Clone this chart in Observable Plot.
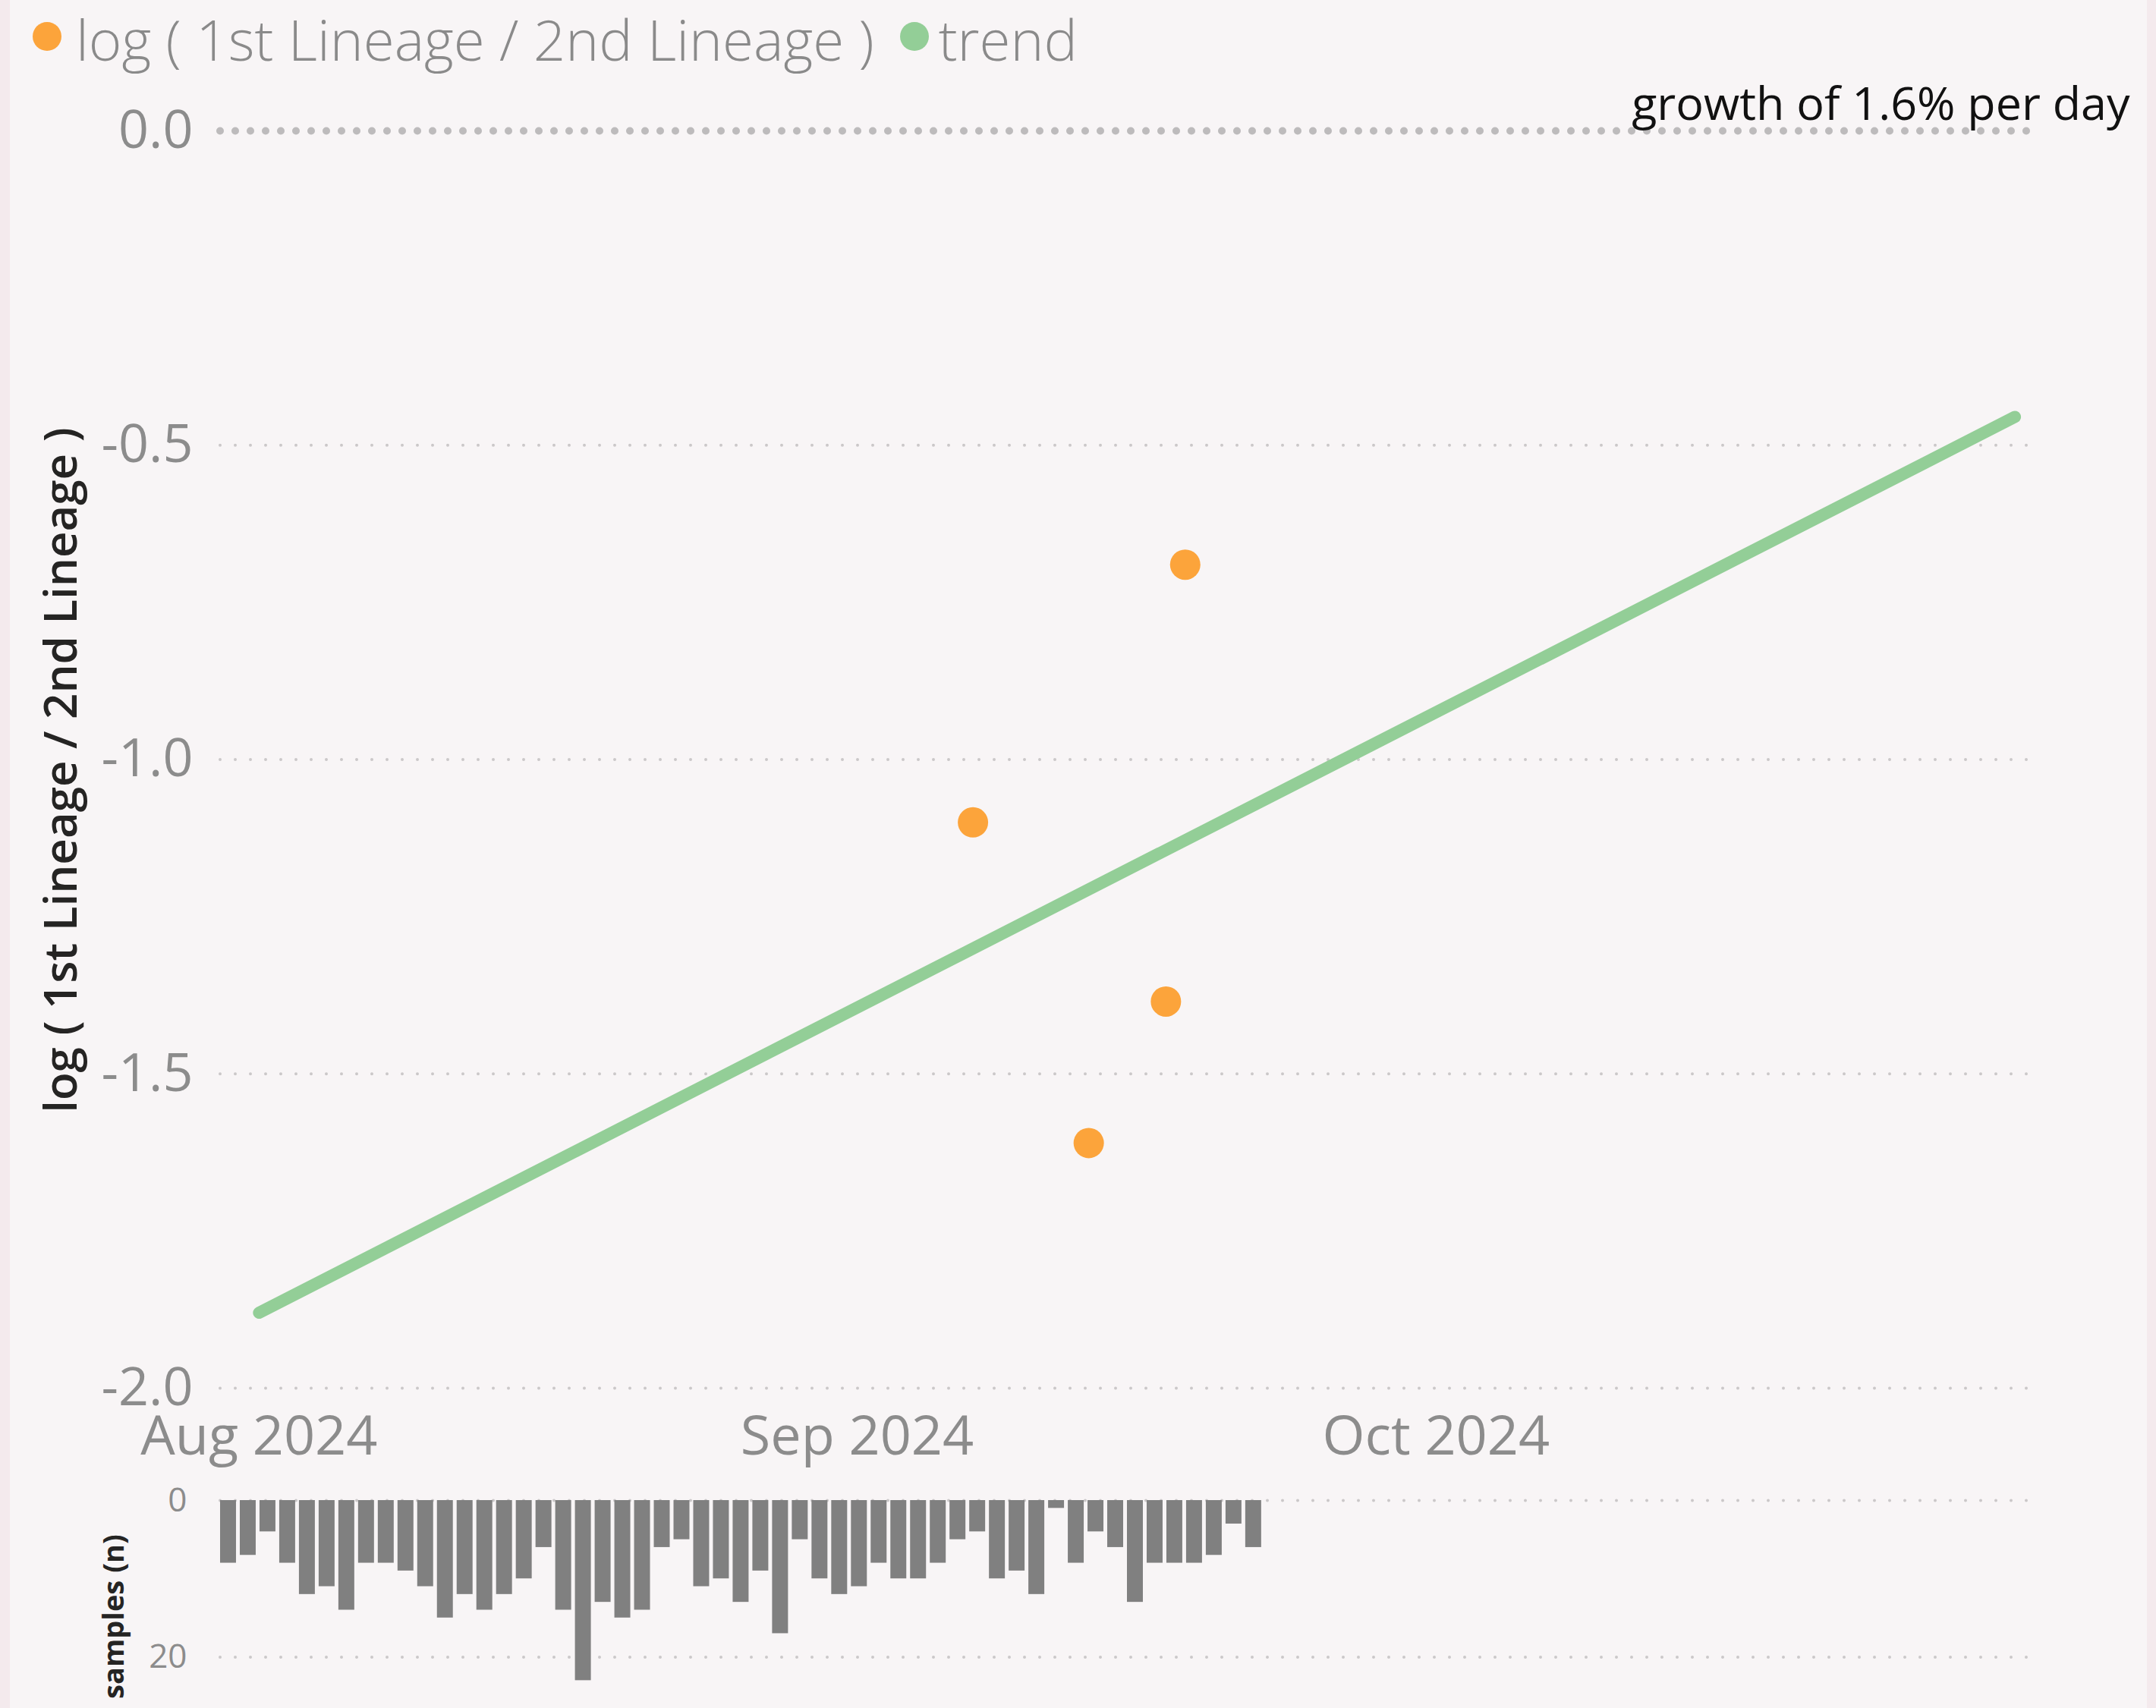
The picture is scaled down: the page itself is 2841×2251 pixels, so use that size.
<!DOCTYPE html>
<html>
<head>
<meta charset="utf-8">
<script src="https://cdn.jsdelivr.net/npm/d3@7"></script>
<script src="https://cdn.jsdelivr.net/npm/@observablehq/plot@0.6"></script>
<style>
  html, body { margin: 0; padding: 0; background: #f4eaed; }
  #root { position: relative; width: 2841px; height: 2251px; overflow: hidden; background: #f4eaed; font-family: "Open Sans", sans-serif; }
  #panel { position: absolute; left: 13px; top: 0; width: 2816px; height: 2251px; background: #f8f5f6; }
  #legend { position: absolute; left: 43px; top: 0; height: 102px; display: flex; align-items: center; font-size: 74.5px; line-height: 102px; color: #8a8a8a; font-weight: 300; white-space: nowrap; }
  #legend .dot { display: inline-block; width: 38px; height: 38px; border-radius: 50%; margin-top: -6px; }
  #legend .item { display: flex; align-items: center; }
  #main { position: absolute; left: 0; top: 100px; }
  #bars { position: absolute; left: 0; top: 1950px; }
</style>
</head>
<body>
<div id="root">
  <div id="panel"></div>
  <div id="legend"></div>
  <div id="main"></div>
  <div id="bars"></div>
</div>
<script>
// ---- data ----
const seriesNames = ["log ( 1st Lineage / 2nd Lineage )", "trend"];
const seriesColors = ["#fca43b", "#93ce97"];

const pointDates = ["2024-09-07", "2024-09-13", "2024-09-17", "2024-09-18"];
const logRatios = [-1.10, -1.61, -1.385, -0.69];

const trendDates = ["2024-08-01", "2024-10-31"];
const trendValues = [-1.88, -0.455];

const yTicks = [0, -0.5, -1.0, -1.5, -2.0];
const xTickDates = ["2024-08-01", "2024-09-01", "2024-10-01"];
const xDomain = ["2024-07-30", "2024-11-01"];

const sampleStart = "2024-08-01";
const sampleCounts = [8, 7, 4, 8, 12, 11, 14, 8, 8, 9, 11, 15, 12, 14, 12, 10, 6, 14, 23,
                      13, 15, 14, 6, 5, 11, 10, 13, 9, 17, 5, 10, 12, 11, 8, 10, 10, 8, 5,
                      4, 10, 9, 12, 1, 8, 4, 6, 13, 8, 8, 8, 7, 3, 6];
const sampleTicks = [0, 20];
const barDomain = ["2024-08-01", "2024-11-01"];

const annotation = "growth of 1.6% per day";
const yLabel = "log ( 1st Lineage / 2nd Lineage )";
const barLabel = "samples (n)";

// ---- derived tables ----
const toDate = s => new Date(s + "T00:00:00Z");
const points = pointDates.map((d, i) => ({date: toDate(d), value: logRatios[i]}));
const trend = trendDates.map((d, i) => ({date: toDate(d), value: trendValues[i]}));
const samples = sampleCounts.map((n, i) => ({date: d3.utcDay.offset(toDate(sampleStart), i), n}));

// ---- legend ----
const legend = document.getElementById("legend");
seriesNames.forEach((name, i) => {
  const item = document.createElement("div");
  item.className = "item";
  item.style.marginRight = i === 0 ? "34px" : "0";
  const dot = document.createElement("span");
  dot.className = "dot";
  dot.style.background = seriesColors[i];
  dot.style.marginRight = i === 0 ? "19px" : "13px";
  const label = document.createElement("span");
  label.textContent = name;
  item.append(dot, label);
  legend.append(item);
});

const dotted = {strokeDasharray: "0,20", strokeLinecap: "round"};

// ---- main chart ----
const main = Plot.plot({
  width: 2841,
  height: 1850,
  marginLeft: 290,
  marginRight: 161,
  marginTop: 72,
  marginBottom: 121,
  style: {background: "transparent", fontFamily: "'Open Sans', sans-serif", overflow: "visible"},
  x: {type: "utc", domain: xDomain.map(toDate)},
  y: {domain: [-2, 0]},
  marks: [
    Plot.ruleY(yTicks.filter(d => d !== 0), {stroke: "#cbc8c9", strokeWidth: 4, ...dotted}),
    Plot.ruleY([0], {stroke: "#bdbbbc", strokeWidth: 10, ...dotted}),
    Plot.axisY(yTicks, {tickSize: 0, tickPadding: 36, fontSize: 70, color: "#8c8c8c", tickFormat: d => d.toFixed(1), label: null}),
    Plot.axisX(xTickDates.map(toDate), {tickSize: 0, tickPadding: 36, fontSize: 72, color: "#8c8c8c", tickFormat: d3.utcFormat("%b %Y"), label: null}),
    Plot.line(trend, {x: "date", y: "value", stroke: seriesColors[1], strokeWidth: 16, strokeLinecap: "round"}),
    Plot.dot(points, {x: "date", y: "value", r: 20, fill: seriesColors[0]}),
    Plot.text([annotation], {frameAnchor: "top-right", textAnchor: "end", lineAnchor: "bottom", dx: 126, dy: -15, fontSize: 61, fill: "#111"}),
    Plot.text([yLabel], {frameAnchor: "left", rotate: -90, textAnchor: "middle", lineAnchor: "middle", dx: -209, dy: 14, fontSize: 60, fontWeight: 600, fill: "#252423"})
  ]
});
document.getElementById("main").append(main);

// ---- sample-count bars ----
const bars = Plot.plot({
  width: 2841,
  height: 301,
  marginLeft: 290,
  marginRight: 161,
  marginTop: 27,
  marginBottom: 16,
  style: {background: "transparent", fontFamily: "'Open Sans', sans-serif", overflow: "visible"},
  x: {type: "utc", domain: barDomain.map(toDate), axis: null},
  y: {domain: [0, 25], reverse: true, axis: null},
  marks: [
    Plot.ruleY(sampleTicks, {stroke: "#cbc8c9", strokeWidth: 4, ...dotted}),
    Plot.rect(samples, {x1: "date", x2: d => d3.utcDay.offset(d.date, 1), y1: 0, y2: "n", insetRight: 5, fill: "#808080"}),
    Plot.axisY(sampleTicks, {tickSize: 0, tickPadding: 44, fontSize: 44, color: "#8c8c8c", label: null}),
    Plot.text([barLabel], {frameAnchor: "left", rotate: -90, textAnchor: "middle", lineAnchor: "middle", dx: -140, dy: 24, fontSize: 38, fontWeight: 700, fill: "#252423"})
  ]
});
document.getElementById("bars").append(bars);
</script>
</body>
</html>
